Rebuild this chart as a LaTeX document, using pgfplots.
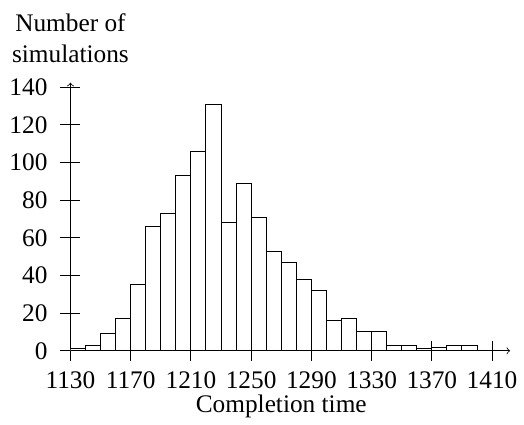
\documentclass[border=0pt]{standalone}
\usepackage{fontspec}
\setmainfont{Liberation Serif}
\usepackage{pgfplots}
\pgfplotsset{compat=1.18}
\begin{document}
\begin{tikzpicture}[font=\fontsize{12.7}{15.5}\selectfont]
	\begin{axis}[scale only axis,
		width=220.6pt, height=134.5pt,
		xmin=1130, xmax=1422,
		ymin=0, ymax=142.4,
		axis lines=left,
		axis line style={->, line width=0.4pt},
		tick align=center,
		major tick length=10pt,
		tick style={black, line width=0.5pt},
		xtick={1130,1170,...,1410},
		ytick={0,20,...,140},
		/pgf/number format/assume math mode=true,
		/pgf/number format/set thousands separator={},
		xticklabel style={yshift=-2pt},
		yticklabel style={xshift=-3pt},
		xlabel={Completion time},
		xlabel style={at={(axis cs:1270,0)}, anchor=base, yshift=-31pt},
		ylabel={Number of\\simulations},
		ylabel style={at={(axis description cs:0,1)}, rotate=-90, anchor=south, align=center, yshift=6.5pt},
		]
		\addplot[ybar interval, fill=white, draw=black, line width=0.5pt] coordinates {
			(1130,1) (1140,3) (1150,9) (1160,17) (1170,35) (1180,66) (1190,73)
			(1200,93) (1210,106) (1220,131) (1230,68) (1240,89) (1250,71)
			(1260,53) (1270,47) (1280,38) (1290,32) (1300,16) (1310,17)
			(1320,10) (1330,10) (1340,3) (1350,3) (1360,1) (1370,2)
			(1380,3) (1390,3) (1400,3)};
		\coordinate (O) at (axis cs:1130,0);
	\end{axis}
	\path (O) ++(-35.35pt,-32.5pt) rectangle ++(262pt,208.5pt);
\end{tikzpicture}
\end{document}
